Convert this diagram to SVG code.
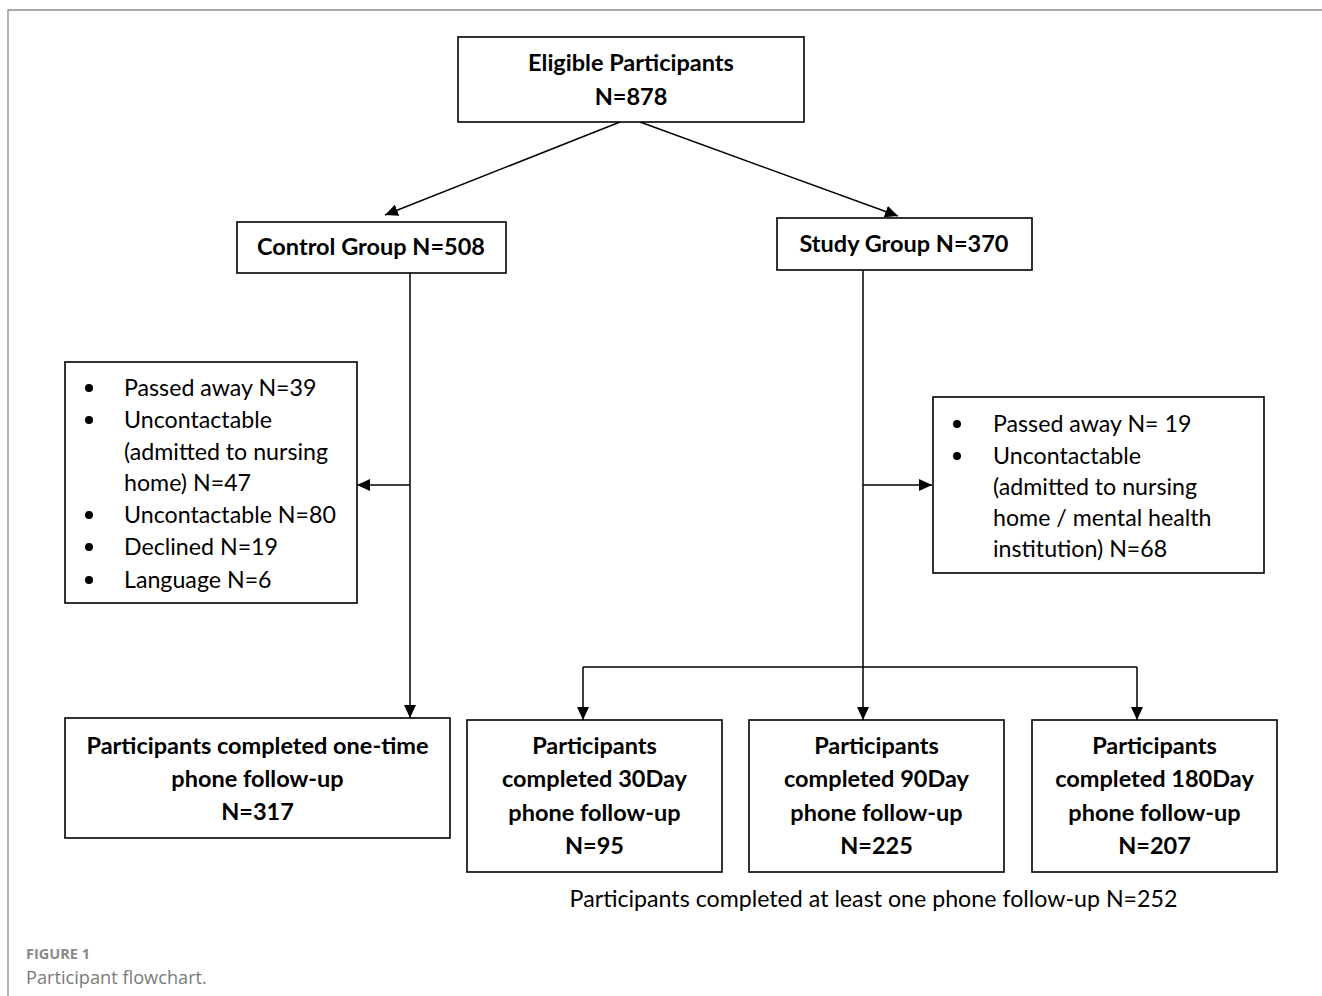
<svg xmlns="http://www.w3.org/2000/svg" width="1322" height="996" viewBox="0 0 1322 996">
<style>
.box{fill:#fff;stroke:#000;stroke-width:1.6}
.b{font-family:Lato,"Open Sans",sans-serif;font-weight:700;font-size:23.5px;text-anchor:middle;fill:#000}
.r{font-family:Lato,"Open Sans",sans-serif;font-size:23.2px;fill:#000}
.c{fill:none;stroke:#000;stroke-width:1.5}
.frame{fill:none;stroke:#8c8c8c;stroke-width:1.3}
.cap1{font-family:"Open Sans",sans-serif;font-weight:700;font-size:14.5px;fill:#8a8a8a}
.cap2{font-family:"Open Sans",sans-serif;font-size:18.2px;fill:#7a7a7a}
</style>
<defs>
<marker id="ah" markerUnits="userSpaceOnUse" markerWidth="14" markerHeight="12" refX="13" refY="6" orient="auto">
<path d="M0,0 L13,6 L0,12 z" fill="#000"/>
</marker>
</defs>
<rect width="1322" height="996" fill="#fff"/>
<path class="frame" d="M8,996 V10 H1322"/>
<g id="connectors">
<line class="c" x1="620" y1="122" x2="385" y2="215" marker-end="url(#ah)"/>
<line class="c" x1="640" y1="122" x2="898" y2="216" marker-end="url(#ah)"/>
<line class="c" x1="410" y1="273" x2="410" y2="718" marker-end="url(#ah)"/>
<line class="c" x1="410" y1="485" x2="357" y2="485" marker-end="url(#ah)"/>
<line class="c" x1="863" y1="270" x2="863" y2="720" marker-end="url(#ah)"/>
<line class="c" x1="863" y1="485" x2="932" y2="485" marker-end="url(#ah)"/>
<path class="c" d="M583,667 H1137"/>
<line class="c" x1="583" y1="667" x2="583" y2="720" marker-end="url(#ah)"/>
<line class="c" x1="1137" y1="667" x2="1137" y2="720" marker-end="url(#ah)"/>
</g>
<g id="eligible">
<rect class="box" x="458" y="37" width="346" height="85"/>
<text class="b" x="631" y="71">Eligible Participants</text>
<text class="b" x="631" y="105">N=878</text>
</g>
<g id="control">
<rect class="box" x="237" y="222" width="269" height="51"/>
<text class="b" x="371" y="255">Control Group N=508</text>
</g>
<g id="study">
<rect class="box" x="777" y="218" width="255" height="52"/>
<text class="b" x="904" y="252">Study Group N=370</text>
</g>
<g id="control-excluded">
<rect class="box" x="65" y="362" width="292" height="241"/>
<circle cx="89" cy="388" r="4"/>
<circle cx="89" cy="420" r="4"/>
<circle cx="89" cy="515" r="4"/>
<circle cx="89" cy="547" r="4"/>
<circle cx="89" cy="580" r="4"/>
<text class="r" x="124" y="396">Passed away N=39</text>
<text class="r" x="124" y="428">Uncontactable</text>
<text class="r" x="124" y="460">(admitted to nursing</text>
<text class="r" x="124" y="491">home) N=47</text>
<text class="r" x="124" y="523">Uncontactable N=80</text>
<text class="r" x="124" y="555">Declined N=19</text>
<text class="r" x="124" y="588">Language N=6</text>
</g>
<g id="study-excluded">
<rect class="box" x="933" y="397" width="331" height="176"/>
<circle cx="957" cy="424" r="4"/>
<circle cx="957" cy="456" r="4"/>
<text class="r" x="993" y="432">Passed away N= 19</text>
<text class="r" x="993" y="464">Uncontactable</text>
<text class="r" x="993" y="495">(admitted to nursing</text>
<text class="r" x="993" y="526">home / mental health</text>
<text class="r" x="993" y="557">institution) N=68</text>
</g>
<g id="one-time">
<rect class="box" x="65" y="718" width="385" height="120"/>
<text class="b" x="257.500" y="754">Participants completed one-time</text>
<text class="b" x="257.500" y="787">phone follow-up</text>
<text class="b" x="257.500" y="820">N=317</text>
</g>
<g id="day30">
<rect class="box" x="467" y="720" width="255" height="152"/>
<text class="b" x="594.500" y="754">Participants</text>
<text class="b" x="594.500" y="787">completed 30Day</text>
<text class="b" x="594.500" y="821">phone follow-up</text>
<text class="b" x="594.500" y="854">N=95</text>
</g>
<g id="day90">
<rect class="box" x="749" y="720" width="255" height="152"/>
<text class="b" x="876.500" y="754">Participants</text>
<text class="b" x="876.500" y="787">completed 90Day</text>
<text class="b" x="876.500" y="821">phone follow-up</text>
<text class="b" x="876.500" y="854">N=225</text>
</g>
<g id="day180">
<rect class="box" x="1032" y="720" width="245" height="152"/>
<text class="b" x="1154.500" y="754">Participants</text>
<text class="b" x="1154.500" y="787">completed 180Day</text>
<text class="b" x="1154.500" y="821">phone follow-up</text>
<text class="b" x="1154.500" y="854">N=207</text>
</g>
<text class="r" x="873.500" y="907" text-anchor="middle">Participants completed at least one phone follow-up N=252</text>
<text class="cap1" x="26" y="959">FIGURE 1</text>
<text class="cap2" x="26" y="984">Participant flowchart.</text>
</svg>
